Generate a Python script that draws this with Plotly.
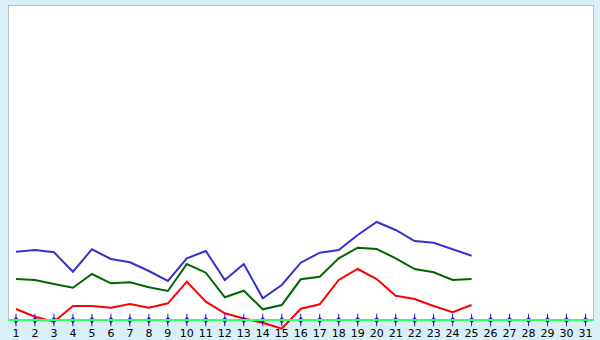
import plotly.graph_objects as go

days = list(range(1, 32))
x_data = list(range(1, 26))
blue = [68.3, 70, 67.7, 48.3, 70.7, 61, 57.7, 49, 39, 61.7, 69, 40, 56, 21.7, 35,
        57.3, 67.3, 70, 85, 98, 90, 79, 77.3, 71, 64.3]
green = [41, 40, 36, 32.3, 46, 36.7, 37.7, 32.7, 29, 56, 47.3, 22.7, 29.3, 10.7, 15,
         40.7, 43.3, 61.7, 72.3, 71, 61.7, 51, 47.7, 40, 41]
red = [11, 3.3, -1.7, 14, 14, 12.3, 16, 12.3, 16.7, 38.3, 18.3, 6.7, 1.5, -2.7, -8.7,
       11.3, 15.7, 40, 51, 41, 24.3, 21, 14, 7.7, 15]
tick_labels = [str(d) for d in days]

BG = "#d8eff7"
fig = go.Figure()

for vals, col in [(blue, "#3333cc"), (green, "#006600"), (red, "#ff0000")]:
    fig.add_trace(go.Scatter(x=x_data, y=vals, mode="lines",
                             line=dict(color=col, width=2), hoverinfo="skip"))

# tick markers on the baseline
fig.add_trace(go.Scatter(x=days, y=[0] * len(days), mode="markers",
                         marker=dict(symbol="line-ns", size=9,
                                     line=dict(color="#2222bb", width=1)),
                         hoverinfo="skip", cliponaxis=False))
fig.add_trace(go.Scatter(x=days, y=[0] * len(days), mode="markers",
                         marker=dict(symbol="diamond", size=5, color="#2222cc"),
                         hoverinfo="skip", cliponaxis=False))

xmin = 1 - 8 / 19
xmax = 31 + 8.5 / 19
fig.add_shape(type="rect", xref="x", yref="y", x0=xmin, x1=xmax, y0=0, y1=315,
              fillcolor="white", line=dict(color="#aaaaaa", width=1.5), layer="below")

fig.update_layout(
    width=600, height=340,
    margin=dict(l=8, r=5.5, t=5, b=0, autoexpand=False),
    paper_bgcolor=BG, plot_bgcolor=BG,
    showlegend=False,
    xaxis=dict(range=[xmin, xmax], tickmode="array", tickvals=days, ticktext=tick_labels,
               showgrid=False, zeroline=False, showline=True, linecolor="#33ff66",
               linewidth=2, ticks="outside", ticklen=3, tickcolor="#2222bb", tickwidth=1,
               anchor="free", position=20 / 335, automargin=False,
               tickfont=dict(family="DejaVu Sans", size=11, color="black"),
               fixedrange=True),
    yaxis=dict(range=[-20, 315], showgrid=False, zeroline=False, showticklabels=False,
               showline=False, fixedrange=True, automargin=False),
)

fig.write_html("out.html", config={"displayModeBar": False})
